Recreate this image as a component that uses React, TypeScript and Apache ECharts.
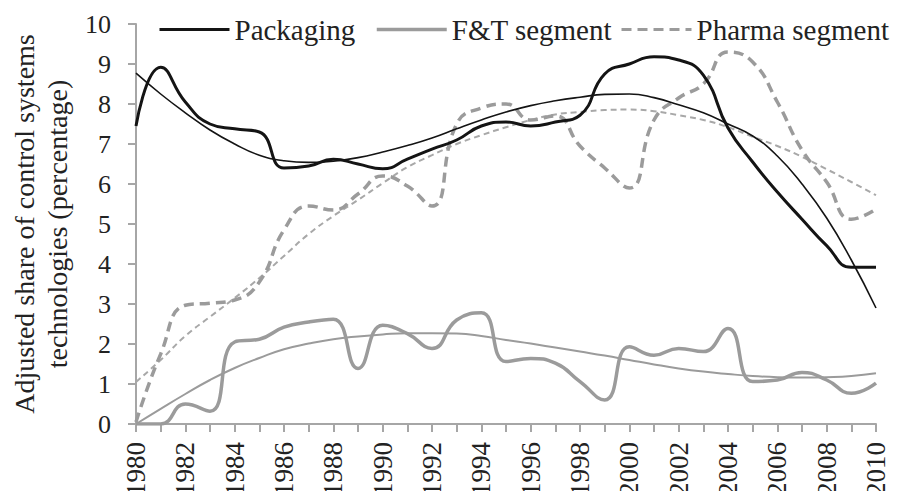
import React, { useEffect, useRef } from "react";
import * as echarts from "echarts";

const years: string[] = [
  "1980","1981","1982","1983","1984","1985","1986","1987","1988","1989",
  "1990","1991","1992","1993","1994","1995","1996","1997","1998","1999",
  "2000","2001","2002","2003","2004","2005","2006","2007","2008","2009","2010",
];

const packaging: number[] = [
  7.45, 8.92, 8.05, 7.5, 7.38, 7.3, 6.4, 6.45, 6.62, 6.5,
  6.38, 6.62, 6.87, 7.1, 7.45, 7.55, 7.45, 7.55, 7.72, 8.75,
  9.0, 9.18, 9.1, 8.72, 7.4, 6.55, 5.8, 5.12, 4.46, 3.92, 3.92,
];

const packagingTrend: number[] = [
  8.77, 8.25, 7.78, 7.35, 7.0, 6.72, 6.58, 6.54, 6.57, 6.66,
  6.8, 6.96, 7.15, 7.38, 7.6, 7.8, 7.96, 8.08, 8.17, 8.24,
  8.25, 8.16, 7.98, 7.78, 7.5, 7.2, 6.7, 6.0, 5.15, 4.1, 2.9,
];

const ft: number[] = [
  0, 0, 0.5, 0.32, 2.05, 2.12, 2.42, 2.55, 2.62, 1.39,
  2.47, 2.26, 1.89, 2.6, 2.78, 1.56, 1.64, 1.52, 1.06, 0.6,
  1.93, 1.72, 1.89, 1.81, 2.39, 1.06, 1.1, 1.29, 1.1, 0.77, 1.02,
];

const ftTrend: number[] = [
  0, 0.38, 0.75, 1.1, 1.4, 1.65, 1.87, 2.01, 2.12, 2.19,
  2.24, 2.27, 2.27, 2.26, 2.2, 2.1, 2.01, 1.91, 1.81, 1.71,
  1.6, 1.49, 1.39, 1.31, 1.25, 1.2, 1.17, 1.16, 1.17, 1.2, 1.27,
];

const pharma: number[] = [
  0.05, 1.75, 2.97, 3.02, 3.1, 3.55, 4.85, 5.45, 5.35, 5.75,
  6.2, 5.95, 5.45, 7.5, 7.9, 8.0, 7.6, 7.7, 6.95, 6.4,
  5.9, 7.6, 8.15, 8.5, 9.3, 9.05, 8.05, 6.85, 6.05, 5.12, 5.37,
];

const pharmaTrend: number[] = [
  1.05, 1.6, 2.2, 2.68, 3.15, 3.65, 4.2, 4.75, 5.2, 5.6,
  6.02, 6.42, 6.72, 7.0, 7.22, 7.42, 7.6, 7.74, 7.8, 7.85,
  7.86, 7.82, 7.72, 7.6, 7.42, 7.18, 6.95, 6.68, 6.37, 6.05, 5.72,
];

const legendNames: string[] = ["Packaging", "F&T segment", "Pharma segment"];

const FONT = "Liberation Serif";
const BLACK = "#141414";
const GREY = "#9b9b9b";
const AXIS = "#a6a6a6";
const TEXT = "#222222";

function legendFor(name: string, left: number, width: number) {
  return {
    data: [name],
    left,
    top: 10,
    itemWidth: 70,
    itemHeight: 12,
    itemStyle: { opacity: 0 },
    lineStyle: { width },
    textStyle: { fontFamily: FONT, fontSize: 29, color: TEXT },
  };
}

export default function App() {
  const ref = useRef<HTMLDivElement>(null);

  useEffect(() => {
    if (!ref.current) return;
    const chart = echarts.init(ref.current, undefined, { renderer: "svg" });
    chart.setOption({
      animation: false,
      backgroundColor: "#ffffff",
      textStyle: { fontFamily: FONT, color: TEXT },
      grid: { left: 131, right: 28, top: 24, bottom: 73, containLabel: false },
      legend: [
        legendFor(legendNames[0], 153, 3),
        legendFor(legendNames[1], 370, 3.5),
        legendFor(legendNames[2], 615, 3),
      ],
      xAxis: {
        type: "category",
        data: years,
        boundaryGap: false,
        axisLine: { show: true, lineStyle: { color: AXIS, width: 2 } },
        axisTick: { show: true, interval: 0, length: 8, lineStyle: { color: AXIS, width: 2 } },
        axisLabel: {
          interval: 1,
          rotate: 90,
          margin: 18,
          fontFamily: FONT,
          fontSize: 27,
          color: TEXT,
        },
        splitLine: { show: false },
      },
      yAxis: {
        type: "value",
        min: 0,
        max: 10,
        interval: 1,
        name: "Adjusted share of control systems\ntechnologies (percentage)",
        nameLocation: "middle",
        nameRotate: 90,
        nameGap: 62,
        nameTextStyle: { fontFamily: FONT, fontSize: 28, color: TEXT, lineHeight: 33 },
        axisLine: { show: true, lineStyle: { color: AXIS, width: 2 } },
        axisTick: { show: true, length: 8, lineStyle: { color: AXIS, width: 2 } },
        axisLabel: { margin: 25, fontFamily: FONT, fontSize: 26, color: TEXT },
        splitLine: { show: false },
      },
      series: [
        {
          name: "F&T trend",
          type: "line",
          data: ftTrend,
          smooth: true,
          symbol: "none",
          lineStyle: { color: GREY, width: 2 },
          z: 2,
        },
        {
          name: "Pharma trend",
          type: "line",
          data: pharmaTrend,
          smooth: true,
          symbol: "none",
          lineStyle: { color: "#a8a8a8", width: 2, type: [6, 4] },
          z: 2,
        },
        {
          name: legendNames[1],
          type: "line",
          data: ft,
          smooth: true,
          symbol: "none",
          itemStyle: { color: GREY },
          lineStyle: { color: GREY, width: 3.5 },
          z: 3,
        },
        {
          name: legendNames[2],
          type: "line",
          data: pharma,
          smooth: true,
          symbol: "none",
          itemStyle: { color: GREY },
          lineStyle: { color: GREY, width: 3.5, type: [10, 6] },
          z: 3,
        },
        {
          name: "Packaging trend",
          type: "line",
          data: packagingTrend,
          smooth: true,
          symbol: "none",
          lineStyle: { color: BLACK, width: 1.6 },
          z: 4,
        },
        {
          name: legendNames[0],
          type: "line",
          data: packaging,
          smooth: true,
          symbol: "none",
          itemStyle: { color: BLACK },
          lineStyle: { color: BLACK, width: 3 },
          z: 5,
        },
      ],
    });
    return () => chart.dispose();
  }, []);

  return <div ref={ref} style={{ width: 904, height: 499, margin: -8 }} />;
}
